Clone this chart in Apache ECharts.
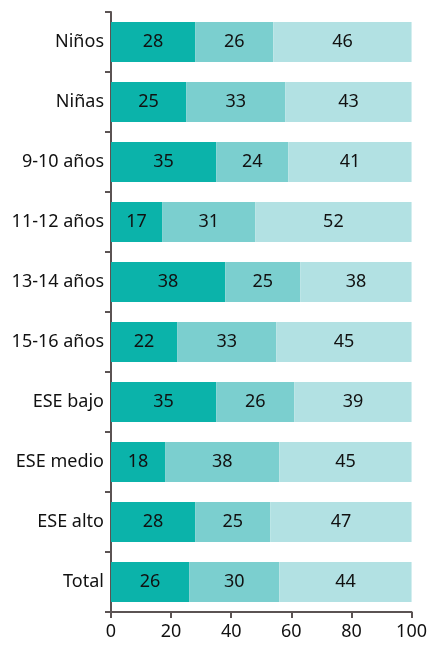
<!DOCTYPE html>
<html>
<head>
<meta charset="utf-8">
<script src="https://cdn.jsdelivr.net/npm/echarts@6/dist/echarts.min.js"></script>
<style>
  html, body { margin: 0; padding: 0; background: #fff; }
  #chart { width: 430px; height: 645px; }
</style>
</head>
<body>
<div id="chart"></div>
<script>
var categories = ["Niños", "Niñas", "9-10 años", "11-12 años", "13-14 años", "15-16 años", "ESE bajo", "ESE medio", "ESE alto", "Total"];
var serie1 = [28, 25, 35, 17, 38, 22, 35, 18, 28, 26];
var serie2 = [26, 33, 24, 31, 25, 33, 26, 38, 25, 30];
var serie3 = [46, 43, 41, 52, 38, 45, 39, 45, 47, 44];
var xTicks = [0, 20, 40, 60, 80, 100];

(function(){
    var myChart = echarts.init(document.getElementById("chart"));
    var font = "'Noto Sans', sans-serif";
    var axisColor = '#5b5353';

    function mk(name, data, color) {
        return {
            name: name,
            type: 'bar',
            stack: 'total',
            data: data,
            barWidth: '67%',
            itemStyle: { color: color },
            label: {
                show: true,
                position: 'inside',
                color: '#111',
                fontSize: 18,
                fontFamily: font
            },
            emphasis: { disabled: true }
        };
    }

    var option = {
        animation: false,
        grid: { left: 111, right: 18, top: 12, bottom: 33, containLabel: false },
        xAxis: {
            type: 'value',
            min: xTicks[0],
            max: xTicks[xTicks.length - 1],
            interval: 20,
            axisLine: { show: true, lineStyle: { color: axisColor, width: 2 } },
            axisTick: { show: true, length: 6, lineStyle: { color: axisColor, width: 2 } },
            axisLabel: { color: '#111', fontSize: 18, fontFamily: font, margin: 11 },
            splitLine: { show: false }
        },
        yAxis: {
            type: 'category',
            inverse: true,
            data: categories,
            axisLine: { show: true, lineStyle: { color: axisColor, width: 2 } },
            axisTick: { show: true, length: 6, lineStyle: { color: axisColor, width: 2 } },
            axisLabel: { color: '#111', fontSize: 18, fontFamily: font, margin: 7 }
        },
        series: [
            mk('s1', serie1, '#0bb3aa'),
            mk('s2', serie2, '#7bcfcf'),
            mk('s3', serie3, '#b2e1e3')
        ]
    };
    myChart.setOption(option);
})();
</script>
</body>
</html>
